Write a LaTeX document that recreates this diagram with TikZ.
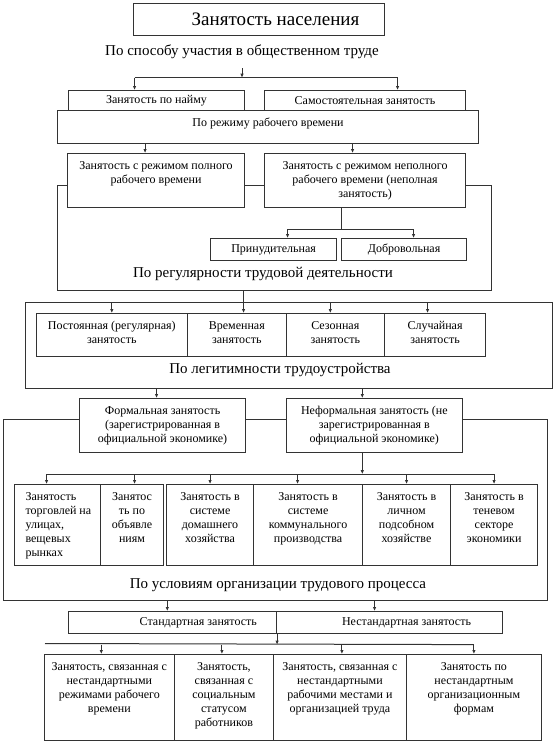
\documentclass[tikz,border=0pt]{standalone}
\usepackage{fontspec}
\setmainfont{Liberation Serif}
\usetikzlibrary{arrows.meta}

\newcommand{\boxfont}{\fontsize{12}{14}\selectfont}
\newcommand{\titlefont}{\fontsize{19}{22}\selectfont}
\newcommand{\groupfont}{\fontsize{15}{18}\selectfont}
% text hung from the top of a box: width, height, text
\newcommand{\cellbox}[3]{\parbox[t][#2pt][t]{#1pt}{\centering\vspace*{6pt}\strut#3}}
\newcommand{\leftcellbox}[3]{\parbox[t][#2pt][t]{#1pt}{\raggedright\leftskip=11pt\vspace*{6pt}\strut#3}}

\begin{document}
\begin{tikzpicture}[
        x=1pt, y=-1pt,
        cell/.style={draw=black!80, line width=1.1pt, fill=white, inner sep=0pt,
                     anchor=north west, font=\boxfont},
        group/.style={inner sep=0pt, font=\groupfont},
        wire/.style={draw=black!80, line width=1pt},
        arr/.style={wire, -{Latex[length=4pt,width=3.5pt]}}
    ]
    \useasboundingbox (0,0) rectangle (557,744);

    \node[cell, minimum width=251pt, minimum height=32pt, font=\titlefont] (title) at (133,3) {\hspace*{33pt}Занятость населения};
    \node[group] (way1) at (242,52) {По способу участия в общественном труде};

    \node[cell, minimum width=176pt, minimum height=20pt] (hire) at (68,90) {Занятость по найму};
    \node[cell, minimum width=201pt, minimum height=20pt] (self) at (264,90) {Самостоятельная занятость};

    % regular working time
    \node[cell] (regu) at (57,185) {\cellbox{434}{105}{}};
    \node[cell] (regime) at (57,110) {\cellbox{421}{33}{По режиму рабочего времени}};
    \node[cell] (full) at (67,153) {\cellbox{177}{54}{Занятость с режимом полного\\рабочего времени}};
    \node[cell] (part) at (264,153) {\cellbox{201}{54}{Занятость с режимом неполного\\рабочего времени (неполная\\занятость)}};
    \node[cell, minimum width=126pt, minimum height=22pt] (forced) at (210,238) {Принудительная};
    \node[cell, minimum width=125pt, minimum height=22pt] (volun) at (341,238) {Добровольная};
    \node[group] (regulbl) at (263,274) {По регулярности трудовой деятельности};

    % legitimacy
    \node[cell] (legit) at (25,302) {\cellbox{527}{86}{}};
    \node[cell] (perm) at (35.5,313) {\cellbox{151.5}{43}{Постоянная (регулярная)\\занятость}};
    \node[cell] (temp) at (187,313) {\cellbox{98.5}{43}{Временная\\занятость}};
    \node[cell] (seas) at (285.5,313) {\cellbox{98.5}{43}{Сезонная\\занятость}};
    \node[cell] (rand) at (384,313) {\cellbox{101}{43}{Случайная\\занятость}};
    \node[group] (legitlbl) at (280,370) {По легитимности трудоустройства};

    % organisation of labour
    \node[cell] (cond) at (3,419) {\cellbox{544}{181}{}};
    \node[cell] (formal) at (79,398) {\cellbox{166}{54}{Формальная занятость\\(зарегистрированная в\\официальной экономике)}};
    \node[cell] (informal) at (285.5,398) {\cellbox{176.5}{54}{Неформальная занятость (не\\зарегистрированная в\\официальной экономике)}};
    \node[cell] (street) at (14,484) {\leftcellbox{86}{81}{Занятость\\торговлей на\\улицах,\\вещевых\\рынках}};
    \node[cell] (adv) at (100,484) {\cellbox{63}{81}{Занятос\\ть по\\объявле\\ниям}};
    \node[cell] (home) at (166,484) {\cellbox{87}{81}{Занятость в\\системе\\домашнего\\хозяйства}};
    \node[cell] (comm) at (253,484) {\cellbox{109}{81}{Занятость в\\системе\\коммунального\\производства}};
    \node[cell] (pers) at (362,484) {\cellbox{88}{81}{Занятость в\\личном\\подсобном\\хозяйстве}};
    \node[cell] (shadow) at (450,484) {\cellbox{87}{81}{Занятость в\\теневом\\секторе\\экономики}};
    \node[group] (condlbl) at (278,585) {По условиям организации трудового процесса};

    \node[cell, minimum width=208.5pt, minimum height=22pt] (stdL) at (67.5,611) {\hspace*{52pt}Стандартная занятость};
    \node[cell, minimum width=226pt, minimum height=22pt] (stdR) at (276,611) {\hspace*{34pt}Нестандартная занятость};
    \node[cell] (ns1) at (43.5,654) {\cellbox{130.5}{86}{Занятость, связанная с\\нестандартными\\режимами рабочего\\времени}};
    \node[cell] (ns2) at (174,654) {\cellbox{98.7}{86}{Занятость,\\связанная с\\социальным\\статусом\\работников}};
    \node[cell] (ns3) at (272.7,654) {\cellbox{133.3}{86}{Занятость, связанная с\\нестандартными\\рабочими местами и\\организацией труда}};
    \node[cell] (ns4) at (406,654) {\cellbox{134.7}{86}{Занятость по\\нестандартным\\организационным\\формам}};

    % connectors
    \coordinate (j1) at (243,77.7);
    \coordinate (h1) at ([xshift=-22pt]hire.north);
    \coordinate (s1) at ([xshift=32.5pt]self.north);
    \draw[arr, shorten <=9pt] (way1.south) -- (way1.south |- j1);
    \draw[arr] (j1 -| h1) -- (h1);
    \draw[arr] (j1 -| h1) -| (s1);

    \coordinate (f1) at ([xshift=-11pt]full.north);
    \coordinate (p1) at ([xshift=-12.5pt]part.north);
    \draw[arr] (regime.south -| f1) -- (f1);
    \draw[arr] (regime.south -| p1) -- (p1);

    \coordinate (p2) at ([xshift=-23.5pt]part.south);
    \coordinate (j2) at ([yshift=-21pt]p2);
    \coordinate (fo1) at ([xshift=14pt]forced.north);
    \coordinate (vo1) at ([xshift=9.5pt]volun.north);
    \draw[wire] (p2) -- (j2);
    \draw[arr] (j2) -| (fo1);
    \draw[arr] (j2) -| (vo1);

    \coordinate (t1) at ([xshift=6.75pt]temp.north);
    \coordinate (z1) at ([xshift=-5pt]seas.north);
    \coordinate (r1) at ([xshift=-7.5pt]rand.north);
    \draw[arr] (regu.south -| t1) -- (t1);
    \foreach \c in {perm.north, z1, r1}
        \draw[arr] (legit.north -| \c) -- (\c);

    \coordinate (fm1) at ([xshift=-6pt]formal.north);
    \coordinate (in1) at ([xshift=-12pt]informal.north);
    \draw[arr] (legit.south -| fm1) -- (fm1);
    \draw[arr] (legit.south -| in1) -- (in1);

    \coordinate (j3) at ([xshift=-12pt, yshift=-21pt]informal.south);
    \coordinate (q1) at ([xshift=-11pt]street.north);
    \coordinate (q2) at ([xshift=2.5pt]adv.north);
    \coordinate (q3) at (home.north);
    \coordinate (q4) at ([xshift=-10.5pt]comm.north);
    \coordinate (q5) at (pers.north);
    \coordinate (q6) at (shadow.north);
    \draw[arr] (informal.south -| j3) -- (j3);
    \draw[wire] (j3 -| q1) -- (j3 -| q6);
    \foreach \c in {q1,q2,q3,q4,q5,q6}
        \draw[arr] (j3 -| \c) -- (\c);

    \coordinate (u1) at ([xshift=-5pt]stdL.north);
    \coordinate (u2) at ([xshift=-15pt]stdR.north);
    \draw[arr] (cond.south -| u1) -- (u1);
    \draw[arr] (cond.south -| u2) -- (u2);

    \coordinate (j5) at ([yshift=-10.5pt]stdL.south east);
    \coordinate (busL) at (45,643.5);
    \coordinate (v1) at ([xshift=-8pt]ns1.north);
    \coordinate (v2) at ([xshift=-2pt]ns2.north);
    \coordinate (v3) at ([xshift=2pt]ns3.north);
    \coordinate (v4) at (ns4.north);
    \draw[arr] (stdL.south east) -- (j5);
    \draw[wire] (busL) -- (j5 -| v4);
    \foreach \c in {v1,v2,v3,v4}
        \draw[arr] (j5 -| \c) -- (\c);
\end{tikzpicture}
\end{document}
